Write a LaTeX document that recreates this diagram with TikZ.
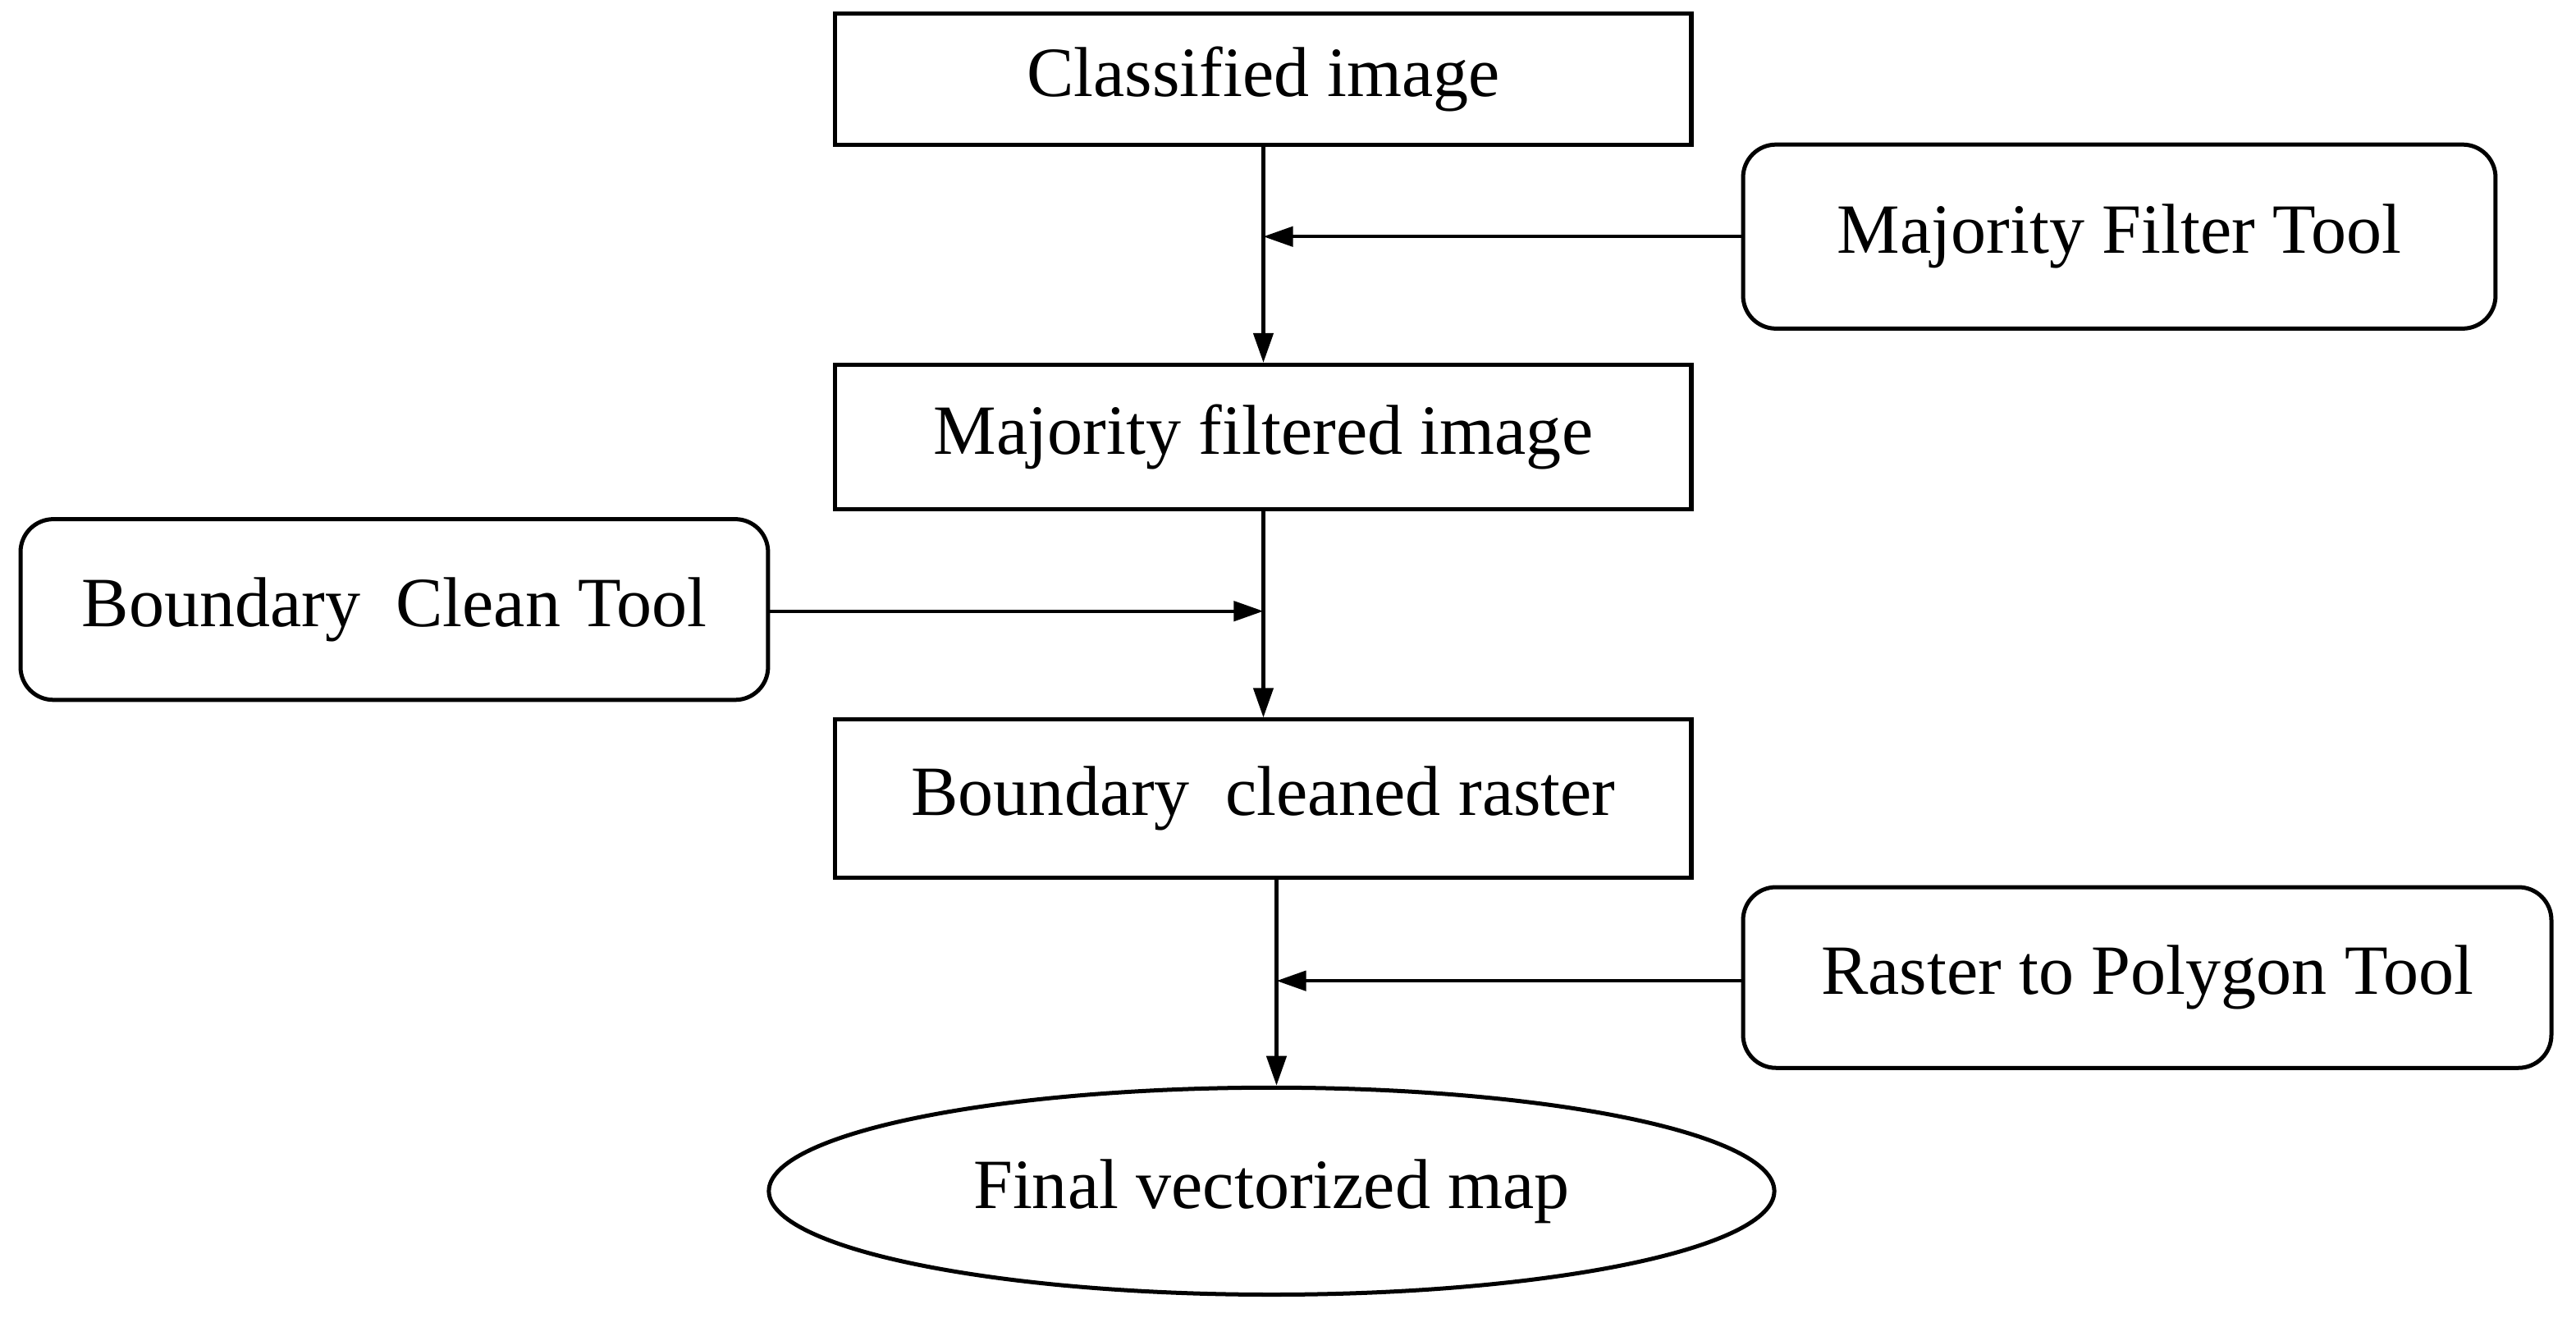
\documentclass[tikz,border=0pt]{standalone}
\usepackage{fontspec}
\setmainfont{Liberation Serif}
\usetikzlibrary{shapes.geometric,arrows.meta}
\begin{document}
\begin{tikzpicture}[x=1pt,y=-1pt,
  every node/.style={font=\fontsize{43}{50}\selectfont, line width=2.5pt, draw, inner sep=0pt},
  box/.style={rectangle},
  tool/.style={rectangle, rounded corners=20pt},
  arr/.style={line width=2.2pt, -{Triangle[length=18pt,width=12pt]}}]
\useasboundingbox (0,0) rectangle (1568,802);
\node[box, minimum width=521pt, minimum height=80pt] (c) at (769,48) {Classified image};
\node[tool, minimum width=458pt, minimum height=112pt] (mft) at (1290,144) {Majority Filter Tool};
\node[box, minimum width=521pt, minimum height=88pt] (mf) at (769,266) {Majority filtered image};
\node[tool, minimum width=455pt, minimum height=110pt] (bct) at (240,371) {Boundary\ \ Clean Tool};
\node[box, minimum width=521pt, minimum height=96pt] (bc) at (769,486) {Boundary\ \ cleaned raster};
\node[tool, minimum width=492pt, minimum height=110pt] (rpt) at (1307,595) {Raster to Polygon Tool};
\node[ellipse, minimum width=612pt, minimum height=126pt] (fv) at (774,725) {Final vectorized map};
\coordinate (j1) at (769,144);
\coordinate (j2) at (769,372);
\coordinate (j3) at (777,597);
\draw[arr] (c.south) -- (mf.north);
\draw[arr] (mft.west) -- (j1);
\draw[arr] (mf.south) -- (bc.north);
\draw[arr] (bct.east |- j2) -- (j2);
\draw[arr] (bc.south -| j3) -- (fv.north -| j3);
\draw[arr] (rpt.west |- j3) -- (j3);
\end{tikzpicture}
\end{document}
